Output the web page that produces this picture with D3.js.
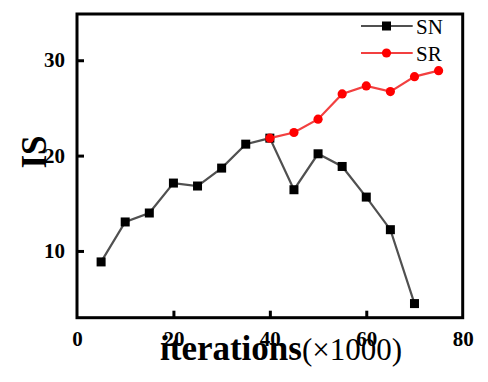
<!DOCTYPE html>
<html><head><meta charset="utf-8">
<script src="https://cdn.jsdelivr.net/npm/d3@7"></script>
<style>body{margin:0;background:#fff}svg{display:block}</style>
</head><body><svg id="c" width="488" height="382"></svg>
<script>
const snX = [5,10,15,20,25,30,35,40,45,50,55,60,65,70];
const snY = [8.85,13.04,13.98,17.12,16.81,18.69,21.2,21.83,16.42,20.19,18.86,15.65,12.23,4.48];
const srX = [40,45,50,55,60,65,70,75];
const srY = [21.83,22.42,23.82,26.47,27.31,26.71,28.28,28.91];
const xTicks = [0,20,40,60,80];
const yTicks = [10,20,30];
const seriesNames = ["SN","SR"];

const svg = d3.select("#c");
const L=77,R=462.7,T=14,B=317.7;
const x = d3.scaleLinear().domain([0,80]).range([L,R]);
const y = d3.scaleLinear().domain([3,34.85]).range([B,T]);
const font = "'Liberation Serif','Times New Roman',serif";

// ticks (inward)
const xa = svg.append("g").attr("transform",`translate(0,${B})`)
  .call(d3.axisBottom(x).tickValues(xTicks).tickSizeInner(-7).tickSizeOuter(0).tickPadding(13));
const ya = svg.append("g").attr("transform",`translate(${L},0)`)
  .call(d3.axisLeft(y).tickValues(yTicks).tickSizeInner(-7).tickSizeOuter(0).tickPadding(12));
[xa,ya].forEach(a=>{
  a.select(".domain").remove();
  a.selectAll(".tick line").attr("stroke","#000").attr("stroke-width",3);
  a.selectAll(".tick text").attr("font-family",font).attr("font-weight","bold").attr("font-size",21).attr("fill","#000");
});
xa.selectAll(".tick line").filter(d=>d===0||d===80).remove();

// frame
svg.append("rect").attr("x",L).attr("y",T).attr("width",R-L).attr("height",B-T)
  .attr("fill","none").attr("stroke","#000").attr("stroke-width",3);

const line = d3.line().x(d=>x(d[0])).y(d=>y(d[1]));
const sn = snX.map((v,i)=>[v,snY[i]]);
const sr = srX.map((v,i)=>[v,srY[i]]);

svg.append("path").datum(sn).attr("d",line).attr("fill","none").attr("stroke","#505050").attr("stroke-width",2.2);
svg.selectAll(".sq").data(sn).enter().append("rect")
  .attr("x",d=>x(d[0])-4.5).attr("y",d=>y(d[1])-4.5).attr("width",9).attr("height",9).attr("fill","#000");
svg.append("path").datum(sr).attr("d",line).attr("fill","none").attr("stroke","#f24040").attr("stroke-width",2.2);
svg.selectAll(".ci").data(sr).enter().append("circle")
  .attr("cx",d=>x(d[0])).attr("cy",d=>y(d[1])).attr("r",4.6).attr("fill","#ff0000");

// legend
const lg = svg.append("g");
const rows = [{n:seriesNames[0],c:"#505050",y:26,m:"sq"},{n:seriesNames[1],c:"#f24040",y:53,m:"ci"}];
rows.forEach(r=>{
  lg.append("line").attr("x1",361).attr("x2",412.7).attr("y1",r.y).attr("y2",r.y).attr("stroke",r.c).attr("stroke-width",2.2);
  if(r.m==="sq") lg.append("rect").attr("x",386.5-4.5).attr("y",r.y-4.5).attr("width",9).attr("height",9).attr("fill","#000");
  else lg.append("circle").attr("cx",386.5).attr("cy",r.y).attr("r",4.6).attr("fill","#ff0000");
  lg.append("text").attr("x",416).attr("y",r.y+7.5).attr("font-family",font).attr("font-size",21).attr("fill","#000").text(r.n);
});

// axis titles
svg.append("text").attr("transform","translate(45.7,152) rotate(-90)").attr("text-anchor","middle")
  .attr("font-family",font).attr("font-weight","bold").attr("font-size",35).attr("fill","#000").text("IS");
const xt = svg.append("text").attr("x",160).attr("y",360).attr("font-family",font).attr("font-size",33).attr("fill","#000");
xt.append("tspan").attr("font-weight","bold").attr("font-size",35).text("iterations");
xt.append("tspan").attr("font-size",31).text("(×1000)");
</script></body></html>
